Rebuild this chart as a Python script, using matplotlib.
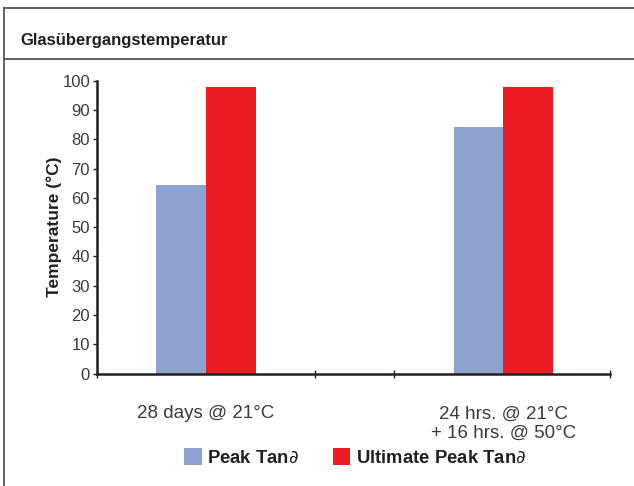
import numpy as np
import matplotlib
matplotlib.use("Agg")
import matplotlib.pyplot as plt
from matplotlib.lines import Line2D

# Datos
categorias = ["28 days @ 21°C", "24 hrs. @ 21°C\n+ 16 hrs. @ 50°C"]
peak_tan = [64.4, 84.3]
ultimate_peak_tan = [97.9, 97.9]
series_labels = ["Peak Tan$\\partial$", "Ultimate Peak Tan$\\partial$"]
y_ticks = [0, 10, 20, 30, 40, 50, 60, 70, 80, 90, 100]

color_azul = "#8FA3D1"
color_rojo = "#ED1C24"
color_texto = "#3a3a3a"
color_eje = "#231F20"

plt.rcParams["font.family"] = ["Liberation Sans", "DejaVu Sans"]
plt.rcParams["mathtext.fontset"] = "dejavusans"

fig = plt.figure(figsize=(6.34, 4.86), dpi=100)
ax = fig.add_axes([97 / 634, 1 - 373.5 / 486, 513 / 634, 292.8 / 486])

x = np.arange(len(categorias))
ancho = 0.1667
b1 = ax.bar(x - ancho / 2, peak_tan, ancho, color=color_azul, label=series_labels[0])
b2 = ax.bar(x + ancho / 2, ultimate_peak_tan, ancho, color=color_rojo, label=series_labels[1])

ax.set_xlim(-0.367, 1.36)
ax.set_ylim(0, 100)

# Ejes
for lado in ["top", "right"]:
    ax.spines[lado].set_visible(False)
for lado in ["left", "bottom"]:
    ax.spines[lado].set_linewidth(1.8)
    ax.spines[lado].set_color(color_eje)

ax.set_yticks(y_ticks)
ax.tick_params(axis="y", direction="out", length=3, width=1, colors=color_eje,
               labelcolor=color_texto, labelsize=12, pad=2)

ax.set_xticks(x)
ax.set_xticklabels(categorias, fontsize=13.5, color=color_texto, linespacing=1.15)
ax.tick_params(axis="x", which="major", length=0, pad=23)
ax.set_xticks([-0.367, 0.367, 0.633, 1.36], minor=True)
ax.tick_params(axis="x", which="minor", direction="inout", length=6, width=1, colors=color_eje)

ax.set_ylabel("Temperature (°C)", fontsize=12.5, fontweight="bold", color=color_eje, labelpad=0)

# Leyenda
fig.legend(handles=[b1, b2], labels=series_labels, loc="center",
           bbox_to_anchor=(355 / 634, 1 - 457 / 486), ncol=2, frameon=False,
           prop={"weight": "bold", "size": 13.3}, handlelength=0.95, handleheight=1.05,
           handletextpad=0.3, columnspacing=1.8, labelcolor=color_eje)

# Titulo y marco
fig.text(20 / 634, 1 - 41 / 486, "Glasübergangstemperatur", fontsize=12, fontweight="bold",
         color=color_eje, va="center", ha="left")
marco = "#555555"
fig.add_artist(Line2D([4 / 634, 4 / 634], [0, 1 - 8 / 486], color=marco, lw=1.3))
fig.add_artist(Line2D([4 / 634, 1], [1 - 8 / 486, 1 - 8 / 486], color=marco, lw=1.3))
fig.add_artist(Line2D([4 / 634, 1], [1 - 59 / 486, 1 - 59 / 486], color=marco, lw=1.3))

plt.savefig("out.png", dpi=100)
plt.close()
